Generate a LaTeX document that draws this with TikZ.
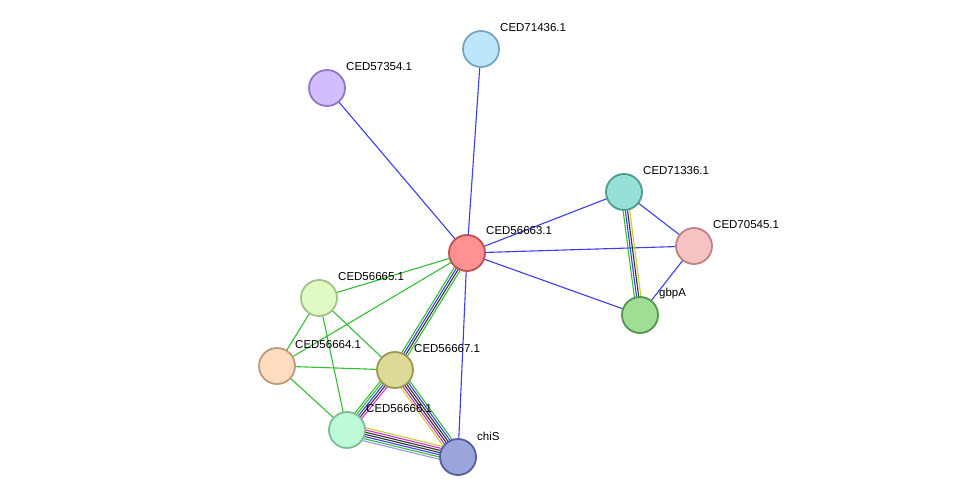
\documentclass[tikz,border=0pt]{standalone}
\usepackage{fontspec}
\setmainfont{Liberation Sans}
\usetikzlibrary{calc}
\tikzset{prot/.style={circle,minimum size=36pt,inner sep=0pt,line width=1.8pt},
 lbl/.style={anchor=west,font=\fontsize{11.5}{13}\selectfont,inner sep=1pt},
 ed/.style={line width=1.1pt}}
\definecolor{eblue}{RGB}{60,60,240}
\definecolor{egreen}{RGB}{50,190,50}
\definecolor{eyel}{RGB}{190,210,40}
\definecolor{emag}{RGB}{220,40,220}
\definecolor{elb}{RGB}{150,150,240}
\newcommand{\medge}[3]{%
 \foreach \c [count=\i] in {#3} {\global\let\nn\i}%
 \foreach \c [count=\i] in {#3} {%
  \pgfmathsetmacro{\off}{(\i-(\nn+1)/2)*2.2}%
  \draw[ed,\c] ($(#1)!\off pt!90:(#2)$) -- ($(#2)!\off pt!-90:(#1)$);}}
\begin{document}
\begin{tikzpicture}[x=1pt,y=-1pt]
\useasboundingbox (0,0) rectangle (976,503);
\coordinate (c63) at (467,253);
\coordinate (c436) at (481,49);
\coordinate (c354) at (327,88);
\coordinate (c336) at (624,192);
\coordinate (c545) at (694,246);
\coordinate (cg) at (640,315);
\coordinate (c65) at (319,298);
\coordinate (c64) at (277,366);
\coordinate (c67) at (395,370);
\coordinate (c66) at (347,430);
\coordinate (cc) at (458,457);
\foreach \a/\b in {c63/c436,c63/c354,c63/c336,c63/c545,c63/cg,c63/cc,c336/c545,c545/cg}
  \draw[ed,eblue] (\a) -- (\b);
\foreach \a/\b in {c63/c65,c63/c64,c65/c64,c65/c67,c65/c66,c64/c67,c64/c66}
  \draw[ed,egreen] (\a) -- (\b);
\medge{c336}{cg}{egreen,eblue,black!80,eyel}
\medge{c63}{c67}{egreen,eblue,black!80,egreen}
\medge{c67}{c66}{egreen,egreen,eblue,black!80,emag}
\medge{c67}{cc}{eyel,emag,black!80,black!80,eblue,egreen}
\medge{c66}{cc}{elb,egreen,eblue,black!80,black!80,emag,eyel}
\node[prot,fill={rgb,255:red,255;green,145;blue,145},draw={rgb,255:red,190;green,80;blue,80}] (n63) at (c63) {};
\node[prot,fill={rgb,255:red,190;green,230;blue,250},draw={rgb,255:red,120;green,165;blue,195}] (n436) at (c436) {};
\node[prot,fill={rgb,255:red,210;green,190;blue,255},draw={rgb,255:red,145;green,120;blue,190}] (n354) at (c354) {};
\node[prot,fill={rgb,255:red,150;green,225;blue,215},draw={rgb,255:red,80;green,155;blue,145}] (n336) at (c336) {};
\node[prot,fill={rgb,255:red,245;green,195;blue,195},draw={rgb,255:red,190;green,130;blue,130}] (n545) at (c545) {};
\node[prot,fill={rgb,255:red,160;green,222;blue,150},draw={rgb,255:red,85;green,150;blue,80}] (ng) at (cg) {};
\node[prot,fill={rgb,255:red,225;green,250;blue,195},draw={rgb,255:red,160;green,195;blue,135}] (n65) at (c65) {};
\node[prot,fill={rgb,255:red,255;green,220;blue,190},draw={rgb,255:red,190;green,155;blue,120}] (n64) at (c64) {};
\node[prot,fill={rgb,255:red,220;green,218;blue,150},draw={rgb,255:red,155;green,150;blue,80}] (n67) at (c67) {};
\node[prot,fill={rgb,255:red,190;green,250;blue,215},draw={rgb,255:red,125;green,190;blue,150}] (n66) at (c66) {};
\node[prot,fill={rgb,255:red,155;green,165;blue,220},draw={rgb,255:red,85;green,95;blue,155}] (nc) at (cc) {};
\node[lbl] at (485,231) {CED56663.1};
\node[lbl] at (499,28) {CED71436.1};
\node[lbl] at (345,67) {CED57354.1};
\node[lbl] at (642,171) {CED71336.1};
\node[lbl] at (712,225) {CED70545.1};
\node[lbl] at (658,294) {gbpA};
\node[lbl] at (337,277) {CED56665.1};
\node[lbl] at (294,345) {CED56664.1};
\node[lbl] at (413,349) {CED56667.1};
\node[lbl] at (365,409) {CED56666.1};
\node[lbl] at (476,436) {chiS};
\end{tikzpicture}
\end{document}
